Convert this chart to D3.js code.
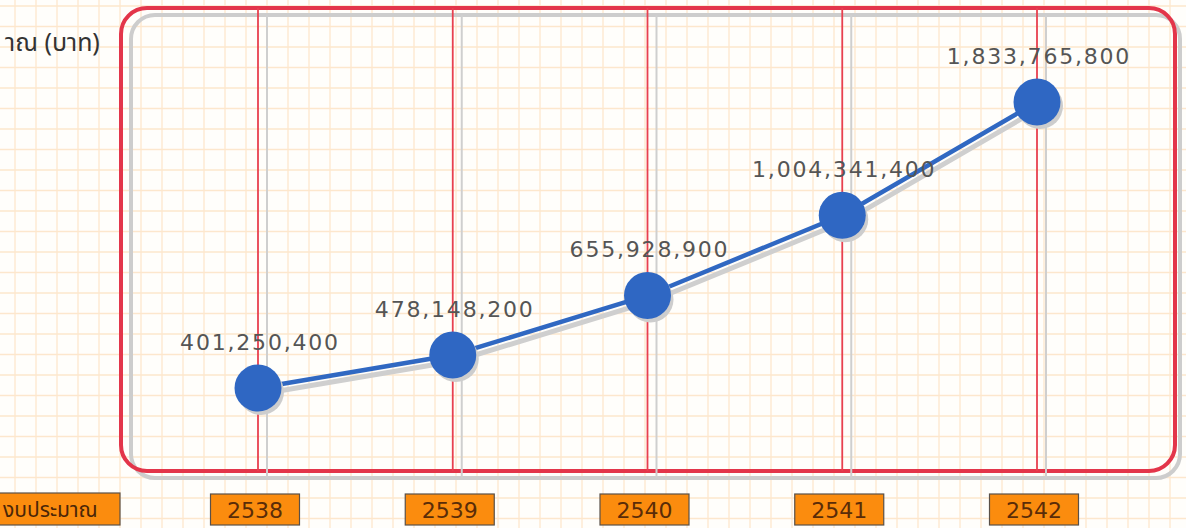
<!DOCTYPE html>
<html>
<head>
<meta charset="utf-8">
<script src="https://cdn.jsdelivr.net/npm/d3@7"></script>
<style>
  body { margin: 0; background: #ffffff; }
  svg { display: block; }
</style>
</head>
<body>
<div id="chart"></div>
<script>
// budget per year (baht)
const years = ["2538", "2539", "2540", "2541", "2542"];
const budget = [401250400, 478148200, 655928900, 1004341400, 1833765800];
const yTitle = "าณ (บาท)";   // only this part of the title is inside the scan
const xTitle = "งบประมาณ";

const W = 1186, H = 528;
const frame = { left: 121, top: 8, right: 1175, bottom: 471 };

const svg = d3.select("#chart").append("svg")
  .attr("width", W)
  .attr("height", H);

svg.append("rect").attr("width", W).attr("height", H).attr("fill", "#fffefb");

// graph paper
const grid = svg.append("g").attr("stroke", "#fde7cd").attr("stroke-width", 1.3);
grid.selectAll(".gx").data(d3.range(15, W, 21)).enter().append("line")
  .attr("x1", d => d).attr("x2", d => d).attr("y1", 0).attr("y2", H);
grid.selectAll(".gy").data(d3.range(6, H, 20.5)).enter().append("line")
  .attr("y1", d => d).attr("y2", d => d).attr("x1", 0).attr("x2", W);

// scales
const x = d3.scalePoint().domain(years).range([258, 1037]);
const y = d3.scaleLog().domain([401250400, 1833765800]).range([388, 102]);

// frame + its shadow
svg.append("rect")
  .attr("x", frame.left + 10).attr("y", frame.top + 7)
  .attr("width", frame.right - frame.left - 5).attr("height", frame.bottom - frame.top)
  .attr("rx", 24).attr("fill", "none")
  .attr("stroke", "#cdcdcd").attr("stroke-width", 4);
svg.append("rect")
  .attr("x", frame.left).attr("y", frame.top)
  .attr("width", frame.right - frame.left).attr("height", frame.bottom - frame.top)
  .attr("rx", 26).attr("fill", "none")
  .attr("stroke", "#e3354a").attr("stroke-width", 4);

// year guide lines
svg.selectAll(".vshadow").data(years).enter().append("line")
  .attr("x1", d => x(d) + 9).attr("x2", d => x(d) + 9)
  .attr("y1", frame.top + 7).attr("y2", frame.bottom + 7)
  .attr("stroke", "#cfcfcf").attr("stroke-width", 2);
svg.selectAll(".vline").data(years).enter().append("line")
  .attr("x1", d => x(d)).attr("x2", d => x(d))
  .attr("y1", frame.top).attr("y2", frame.bottom)
  .attr("stroke", "#e8404f").attr("stroke-width", 1.8);

const pts = years.map((d, i) => ({ year: d, value: budget[i] }));
const line = d3.line().x(d => x(d.year)).y(d => y(d.value));

// line shadow then line
svg.append("path").datum(pts)
  .attr("d", line).attr("transform", "translate(3,6)")
  .attr("fill", "none").attr("stroke", "#cfcfcf").attr("stroke-width", 5);
svg.append("path").datum(pts)
  .attr("d", line)
  .attr("fill", "none").attr("stroke", "#3068c2").attr("stroke-width", 4.5);

svg.selectAll(".dotshadow").data(pts).enter().append("circle")
  .attr("cx", d => x(d.year) + 3).attr("cy", d => y(d.value) + 4)
  .attr("r", 23).attr("fill", "#cdcdcd");
svg.selectAll(".dot").data(pts).enter().append("circle")
  .attr("cx", d => x(d.year)).attr("cy", d => y(d.value))
  .attr("r", 23.5).attr("fill", "#2f67c3");

// value labels
svg.selectAll(".val").data(pts).enter().append("text")
  .attr("x", d => x(d.year) + 2).attr("y", d => y(d.value) - 38)
  .attr("text-anchor", "middle")
  .attr("font-family", "DejaVu Sans, sans-serif")
  .attr("font-size", 22)
  .attr("letter-spacing", 1.8)
  .attr("fill", "#555555")
  .text(d => d3.format(",")(d.value));

// y title
svg.append("text")
  .attr("x", 5).attr("y", 51)
  .attr("font-family", "Noto Sans Thai, DejaVu Sans, sans-serif")
  .attr("font-size", 25)
  .attr("fill", "#333")
  .text(yTitle);

// bottom boxes
const boxW = 89, boxH = 31, boxY = 494;
svg.append("rect")
  .attr("x", -5).attr("y", boxY - 1).attr("width", 125).attr("height", boxH + 1)
  .attr("fill", "#fb8c0e").attr("stroke", "#5a5048").attr("stroke-width", 1.2);
svg.append("text")
  .attr("x", 3).attr("y", boxY + 23)
  .attr("font-family", "Noto Sans Thai, DejaVu Sans, sans-serif")
  .attr("font-size", 21)
  .attr("fill", "#4a2608")
  .text(xTitle);

svg.selectAll(".ybox").data(years).enter().append("rect")
  .attr("x", d => x(d) - boxW / 2 - 3).attr("y", boxY)
  .attr("width", boxW).attr("height", boxH)
  .attr("fill", "#fb8c0e").attr("stroke", "#5a5048").attr("stroke-width", 1.2);
svg.selectAll(".ylab").data(years).enter().append("text")
  .attr("x", d => x(d) - 3).attr("y", boxY + 24)
  .attr("text-anchor", "middle")
  .attr("font-family", "DejaVu Sans, sans-serif")
  .attr("font-size", 22)
  .attr("fill", "#5a2c08")
  .text(d => d);
</script>
</body>
</html>
